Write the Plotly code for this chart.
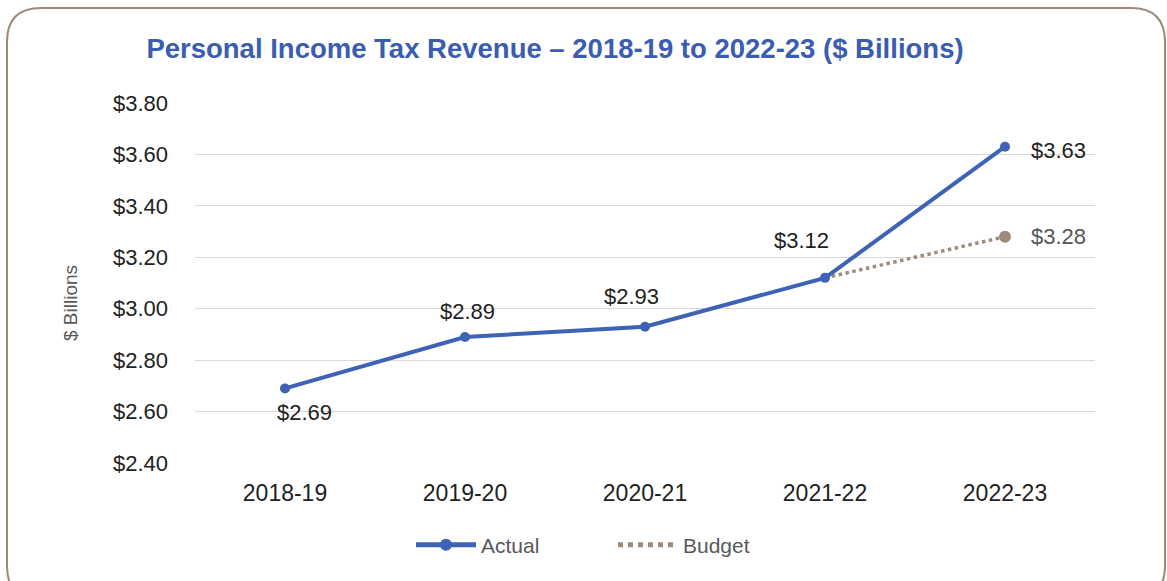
import plotly.graph_objects as go

years = ["2018-19", "2019-20", "2020-21", "2021-22", "2022-23"]
actual = [2.69, 2.89, 2.93, 3.12, 3.63]
budget = [None, None, None, 3.12, 3.28]
y_ticks = [2.40, 2.60, 2.80, 3.00, 3.20, 3.40, 3.60, 3.80]

BLUE = "#3d62b6"
TAN = "#9c8c7c"
FONT = "Liberation Sans, Arial, sans-serif"

# pixel geometry of the plotting area inside the 1167x581 page
W, H = 1167, 581
ML, MR, MT, MB = 195, 72, 103, 118
PW, PH = W - ML - MR, H - MT - MB

fig = go.Figure()

fig.add_trace(go.Scatter(
    x=years, y=budget, name="Budget", mode="lines",
    line=dict(color=TAN, width=3.5, dash="dot"),
    connectgaps=False,
))
# end-point marker of the budget series (kept out of the legend)
fig.add_trace(go.Scatter(
    x=[years[4]], y=[budget[4]], mode="markers", showlegend=False,
    marker=dict(size=12, color=TAN), hoverinfo="skip",
))
fig.add_trace(go.Scatter(
    x=years, y=actual, name="Actual", mode="lines+markers",
    line=dict(color=BLUE, width=4),
    marker=dict(size=10, color=BLUE),
))

# value labels: (x shift, y shift) per point in pixels
actual_offsets = [(19, -24), (2, 26), (-14, 30), (-24, 37), (53, -4)]
for x, v, (dx, dy) in zip(years, actual, actual_offsets):
    fig.add_annotation(x=x, y=v, text=f"${v:.2f}", showarrow=False,
                       xshift=dx, yshift=dy,
                       font=dict(family=FONT, size=22, color="#222222"))
fig.add_annotation(x=years[4], y=budget[4], text=f"${budget[4]:.2f}",
                   showarrow=False, xshift=53, yshift=0,
                   font=dict(family=FONT, size=22, color="#555555"))

# y-axis title placed as a rotated annotation
fig.add_annotation(text="$ Billions", textangle=-90, showarrow=False,
                   xref="paper", yref="paper",
                   x=(70 - ML) / PW, y=(H - MB - 303) / PH,
                   xanchor="center", yanchor="middle",
                   font=dict(family=FONT, size=19, color="#595959"))

# rounded outer frame, expressed in paper coordinates
def px_x(p):
    return (p - ML) / PW

def px_y(p):
    return (H - MB - p) / PH

x0, x1, y0, y1, r = 7, 1165, 8, 600, 34
path = (
    f"M {px_x(x0 + r)} {px_y(y0)} L {px_x(x1 - r)} {px_y(y0)} "
    f"Q {px_x(x1)} {px_y(y0)} {px_x(x1)} {px_y(y0 + r)} "
    f"L {px_x(x1)} {px_y(y1 - r)} "
    f"Q {px_x(x1)} {px_y(y1)} {px_x(x1 - r)} {px_y(y1)} "
    f"L {px_x(x0 + r)} {px_y(y1)} "
    f"Q {px_x(x0)} {px_y(y1)} {px_x(x0)} {px_y(y1 - r)} "
    f"L {px_x(x0)} {px_y(y0 + r)} "
    f"Q {px_x(x0)} {px_y(y0)} {px_x(x0 + r)} {px_y(y0)} Z"
)
fig.add_shape(type="path", path=path, xref="paper", yref="paper",
              line=dict(color="#9a8b7a", width=2), layer="below")

fig.update_layout(
    width=W, height=H,
    margin=dict(l=ML, r=MR, t=MT, b=MB),
    paper_bgcolor="white", plot_bgcolor="white",
    font=dict(family=FONT),
    title=dict(
        text="<b>Personal Income Tax Revenue – 2018-19 to 2022-23 ($ Billions)</b>",
        x=555 / W, xanchor="center", y=1 - 48 / H, yanchor="middle",
        font=dict(family=FONT, size=27.5, color="#3a5db0"),
    ),
    xaxis=dict(
        type="category", range=[-0.5, 4.5], showgrid=False, zeroline=False,
        showline=False, ticks="", ticklabelstandoff=14,
        tickfont=dict(family=FONT, size=23, color="#222222"),
    ),
    yaxis=dict(
        range=[2.40, 3.80], tickvals=y_ticks,
        ticktext=[f"${t:.2f}" for t in y_ticks],
        showgrid=True, gridcolor="#d9d9d9", gridwidth=1,
        zeroline=False, showline=False, ticks="",
        tickfont=dict(family=FONT, size=22, color="#222222"),
        ticklabelstandoff=26,
    ),
    legend=dict(
        orientation="h", x=411 / W, xref="container", xanchor="left",
        y=1 - 545 / H, yref="container", yanchor="middle",
        traceorder="reversed", itemwidth=60,
        entrywidth=127, entrywidthmode="pixels",
        font=dict(family=FONT, size=21, color="#595959"),
        tracegroupgap=0, itemsizing="constant",
    ),
    showlegend=True,
)

fig.write_html("out.html")
